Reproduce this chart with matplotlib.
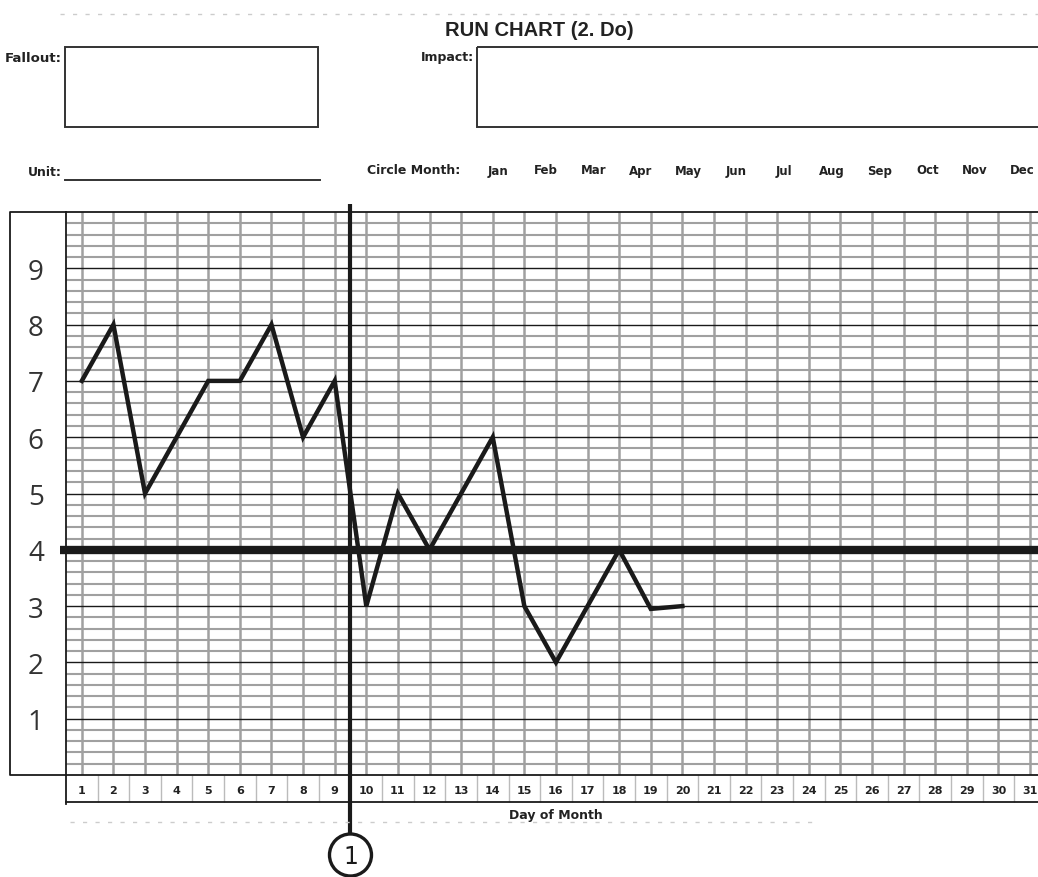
import numpy as np
import matplotlib
matplotlib.use("Agg")
import matplotlib.pyplot as plt
from matplotlib.patches import Circle, Rectangle

DAYS = list(range(1, 32))
DAY_LABELS = [str(d) for d in DAYS]
MEASURED_DAYS = list(range(1, 21))
VALUES = [7, 8, 5, 6, 7, 7, 8, 6, 7, 3, 5, 4, 5, 6, 3, 2, 3, 4, 2.95, 3]
GOAL = 4
CHANGE_AFTER_DAY = 9.5          # vertical marker between day 9 and 10
CHANGE_LABEL = "1"
Y_TICKS = [1, 2, 3, 4, 5, 6, 7, 8, 9]
MONTHS = ["Jan", "Feb", "Mar", "Apr", "May", "Jun",
          "Jul", "Aug", "Sep", "Oct", "Nov", "Dec"]
TITLE = "RUN CHART (2. Do)"

W, H = 1038, 878
INK = "#1a1a1a"
GRID_GREY = "#a0a0a0"
FORM_FONT = dict(family="DejaVu Sans", fontweight="bold", color="#222222")

fig = plt.figure(figsize=(W / 100, H / 100), dpi=100)

# main chart grid
ax = fig.add_axes([66 / W, (H - 776) / H, 1 - 66 / W, (776 - 213) / H])
ax.set_xlim(0.5, 31.25)
ax.set_ylim(0, 10)

for y in np.arange(0.2, 10, 0.2):
    if abs(y - round(y)) < 1e-6:
        continue
    ax.axhline(y, color=GRID_GREY, lw=1.5, zorder=1)
for d in DAYS:
    ax.axvline(d, color=GRID_GREY, lw=1.8, zorder=1)
for y in range(1, 10):
    ax.axhline(y, color=INK, lw=1.0, zorder=2)

# goal line, data, change marker
ax.plot([0.31, 31.25], [GOAL, GOAL], color=INK, lw=6.0,
        solid_capstyle="butt", clip_on=False, zorder=4)
ax.plot(MEASURED_DAYS, VALUES, color=INK, lw=3.2,
        solid_joinstyle="miter", zorder=5)
ax.plot([CHANGE_AFTER_DAY, CHANGE_AFTER_DAY], [10.14, -1.03], color=INK,
        lw=3.0, solid_capstyle="butt", clip_on=False, zorder=6)

# day-label strip under the grid
ax.vlines([d + 0.5 for d in DAYS[:-1]], -0.48, 0, color="#bbbbbb",
          lw=1.0, clip_on=False)
ax.plot([0.5, 31.25], [-0.48, -0.48], color=INK, lw=1.3, clip_on=False)
ax.plot([0.5, 0.5], [0, -0.52], color=INK, lw=1.3, clip_on=False)

ax.set_xticks(DAYS)
ax.set_xticklabels(DAY_LABELS, fontsize=8, fontweight="bold",
                   family="DejaVu Sans", color="#222222")
ax.set_yticks(Y_TICKS)
ax.set_yticklabels([str(v) for v in Y_TICKS], fontsize=20,
                   family="Open Sans", color="#333333")
ax.tick_params(axis="x", length=0, pad=7)
ax.tick_params(axis="y", length=0, pad=16)
for side in ("top", "left", "bottom"):
    ax.spines[side].set_color(INK)
    ax.spines[side].set_linewidth(1.3)
ax.spines["right"].set_visible(False)
ax.text(16.0, -0.70, "Day of Month", ha="center", va="center",
        fontsize=9, **FORM_FONT)

# form decoration layer in pixel coordinates
ov = fig.add_axes([0, 0, 1, 1], zorder=3)
ov.set_xlim(0, W)
ov.set_ylim(H, 0)
ov.axis("off")
ov.patch.set_visible(False)

ov.plot([60, W], [15, 15], color="#cccccc", lw=1.0, ls=(0, (3, 6)))
ov.plot([70, 820], [823, 823], color="#cccccc", lw=1.0, ls=(0, (3, 6)))

ov.text(539, 30, TITLE, ha="center", va="center", fontsize=14.5,
        family="Liberation Sans", fontweight="bold", color="#222222")

ov.add_patch(Rectangle((65, 48), 253, 80, fill=False, ec="#333333", lw=1.4))
ov.add_patch(Rectangle((477, 48), 700, 80, fill=False, ec="#333333", lw=1.4))
ov.text(62, 58, "Fallout:", ha="right", va="center", fontsize=9.5, **FORM_FONT)
ov.text(474, 58, "Impact:", ha="right", va="center", fontsize=9, **FORM_FONT)

ov.text(62, 172, "Unit:", ha="right", va="center", fontsize=9, **FORM_FONT)
ov.plot([65, 320], [181, 181], color="#333333", lw=1.4)
ov.text(367, 171, "Circle Month:", ha="left", va="center", fontsize=9,
        **FORM_FONT)
for i, m in enumerate(MONTHS):
    ov.text(498 + i * 47.7, 171, m, ha="center", va="center", fontsize=8.5,
            **FORM_FONT)

# outer box left of the grid
ov.plot([66, 10, 10, 66], [213, 213, 776, 776], color=INK, lw=1.3)

# numbered change marker
cx = ax.transData.transform((CHANGE_AFTER_DAY, 0))[0]
ov.add_patch(Circle((cx, 856), 21, fill=False, ec=INK, lw=2.4))
ov.text(cx, 857, CHANGE_LABEL, ha="center", va="center", fontsize=17,
        family="DejaVu Sans", color=INK)

fig.savefig("out.png", dpi=100, facecolor="white")
